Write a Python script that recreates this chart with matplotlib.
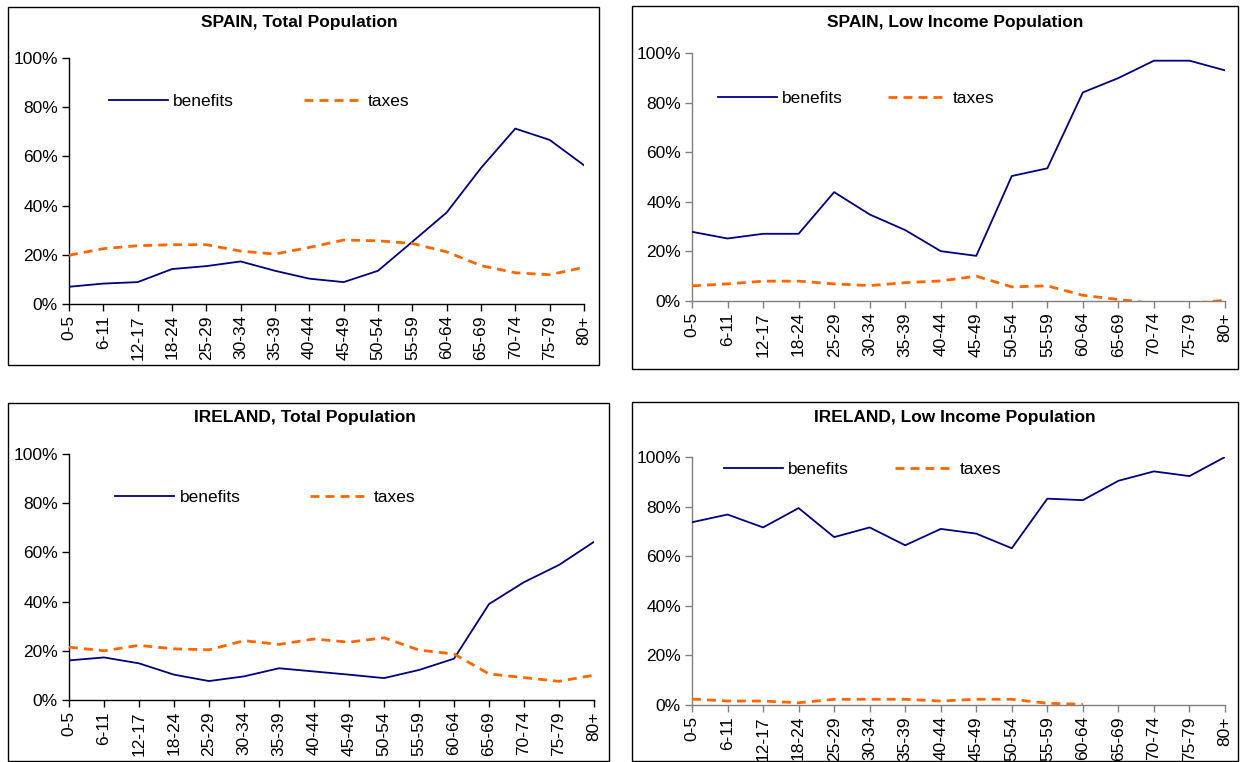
import numpy as np
import matplotlib
matplotlib.use("Agg")
import matplotlib.pyplot as plt
from matplotlib.patches import Rectangle
from matplotlib.ticker import PercentFormatter

plt.rcParams['font.family'] = ['Liberation Sans', 'DejaVu Sans']

age_groups = ["0-5", "6-11", "12-17", "18-24", "25-29", "30-34", "35-39", "40-44",
              "45-49", "50-54", "55-59", "60-64", "65-69", "70-74", "75-79", "80+"]

spain_total_benefits = [7.0, 8.3, 8.9, 14.2, 15.4, 17.3, 13.5, 10.3, 8.9, 13.5, 25.3, 37.2, 55.3, 71.3, 66.7, 56.4]
spain_total_taxes = [19.8, 22.5, 23.7, 24.1, 24.1, 21.5, 20.3, 23.0, 26.0, 25.7, 24.6, 21.2, 15.6, 12.7, 11.9, 14.9]

spain_low_benefits = [27.9, 25.2, 27.1, 27.1, 43.9, 34.9, 28.6, 20.1, 18.2, 50.4, 53.5, 84.1, 89.9, 96.9, 96.9, 93.0]
spain_low_taxes = [6.1, 6.9, 8.0, 8.0, 6.9, 6.2, 7.4, 8.1, 10.0, 5.7, 6.1, 2.3, 0.6, -1.0, -1.0, 0.3]

ireland_total_benefits = [16.1, 17.3, 14.9, 10.3, 7.7, 9.6, 12.9, 11.6, 10.3, 8.9, 12.2, 16.8, 39.0, 47.9, 54.9, 64.3]
ireland_total_taxes = [21.5, 20.0, 22.2, 20.8, 20.4, 24.1, 22.6, 24.8, 23.5, 25.3, 20.3, 18.7, 10.6, 9.1, 7.6, 10.1]

ireland_low_benefits = [73.7, 76.8, 71.6, 79.4, 67.7, 71.6, 64.4, 71.0, 69.1, 63.2, 83.2, 82.6, 90.4, 94.2, 92.3, 100.0]
ireland_low_taxes = [2.4, 1.6, 1.6, 0.9, 2.3, 2.3, 2.3, 1.6, 2.3, 2.3, 0.7, 0.3, np.nan, np.nan, np.nan, np.nan]

titles = ["SPAIN, Total Population", "SPAIN, Low Income Population",
          "IRELAND, Total Population", "IRELAND, Low Income Population"]

W, H = 1242, 762
fig = plt.figure(figsize=(W / 100, H / 100), dpi=100)

def px_rect(x0, x1, ytop, ybot):
    return [x0 / W, 1 - ybot / H, (x1 - x0) / W, (ybot - ytop) / H]

panels = [
    dict(ax=px_rect(69, 584, 58, 304), frame=(8, 599, 7, 365), title=(299, 22),
         ben=spain_total_benefits, tax=spain_total_taxes, spine='black',
         leg=(0.078, 0.825), colsp=4.0),
    dict(ax=px_rect(692, 1225, 53, 301), frame=(632, 1238, 6, 369), title=(955, 22),
         ben=spain_low_benefits, tax=spain_low_taxes, spine='#808080',
         leg=(0.049, 0.815), colsp=2.6),
    dict(ax=px_rect(69, 594, 454, 700), frame=(8, 609, 403, 761), title=(305, 418),
         ben=ireland_total_benefits, tax=ireland_total_taxes, spine='black',
         leg=(0.088, 0.825), colsp=4.0),
    dict(ax=px_rect(692, 1225, 457, 705), frame=(632, 1238, 402, 761), title=(955, 418),
         ben=ireland_low_benefits, tax=ireland_low_taxes, spine='#808080',
         leg=(0.06, 0.948), colsp=2.65),
]

x = np.arange(len(age_groups))
for p, title in zip(panels, titles):
    fx0, fx1, fy0, fy1 = p['frame']
    fig.patches.append(Rectangle((fx0 / W, 1 - fy1 / H), (fx1 - fx0) / W, (fy1 - fy0) / H,
                                 transform=fig.transFigure, fill=False, lw=1.0,
                                 edgecolor='black', zorder=0))
    fig.text(p['title'][0] / W, 1 - p['title'][1] / H, title, ha='center', va='center',
             fontsize=12.5, fontweight='bold')
    ax = fig.add_axes(p['ax'])
    ax.plot(x, p['ben'], color='#000080', lw=1.3, label='benefits', zorder=3)
    ax.plot(x, p['tax'], color='#FF6600', lw=2.0, ls=(0, (3.2, 2.2)), label='taxes', zorder=3)
    ax.set_xlim(0, len(age_groups) - 1)
    ax.set_ylim(0, 100)
    ax.set_yticks(np.arange(0, 101, 20))
    ax.yaxis.set_major_formatter(PercentFormatter(decimals=0))
    ax.set_xticks(x)
    ax.set_xticklabels(age_groups, rotation=90)
    for s in ['top', 'right']:
        ax.spines[s].set_visible(False)
    for s in ['left', 'bottom']:
        ax.spines[s].set_color(p['spine'])
        ax.spines[s].set_linewidth(1.0)
    ax.tick_params(axis='both', colors=p['spine'], labelcolor='black', labelsize=12.5,
                   length=5, width=1.0, direction='out')
    ax.tick_params(axis='y', pad=3)
    ax.tick_params(axis='x', pad=3)
    ax.patch.set_alpha(0)
    ax.legend(loc='center left', bbox_to_anchor=p['leg'], ncol=2, frameon=False,
              fontsize=12.5, handlelength=3.4, handletextpad=0.3,
              columnspacing=p['colsp'], borderpad=0, borderaxespad=0)

fig.savefig("out.png", dpi=100)
